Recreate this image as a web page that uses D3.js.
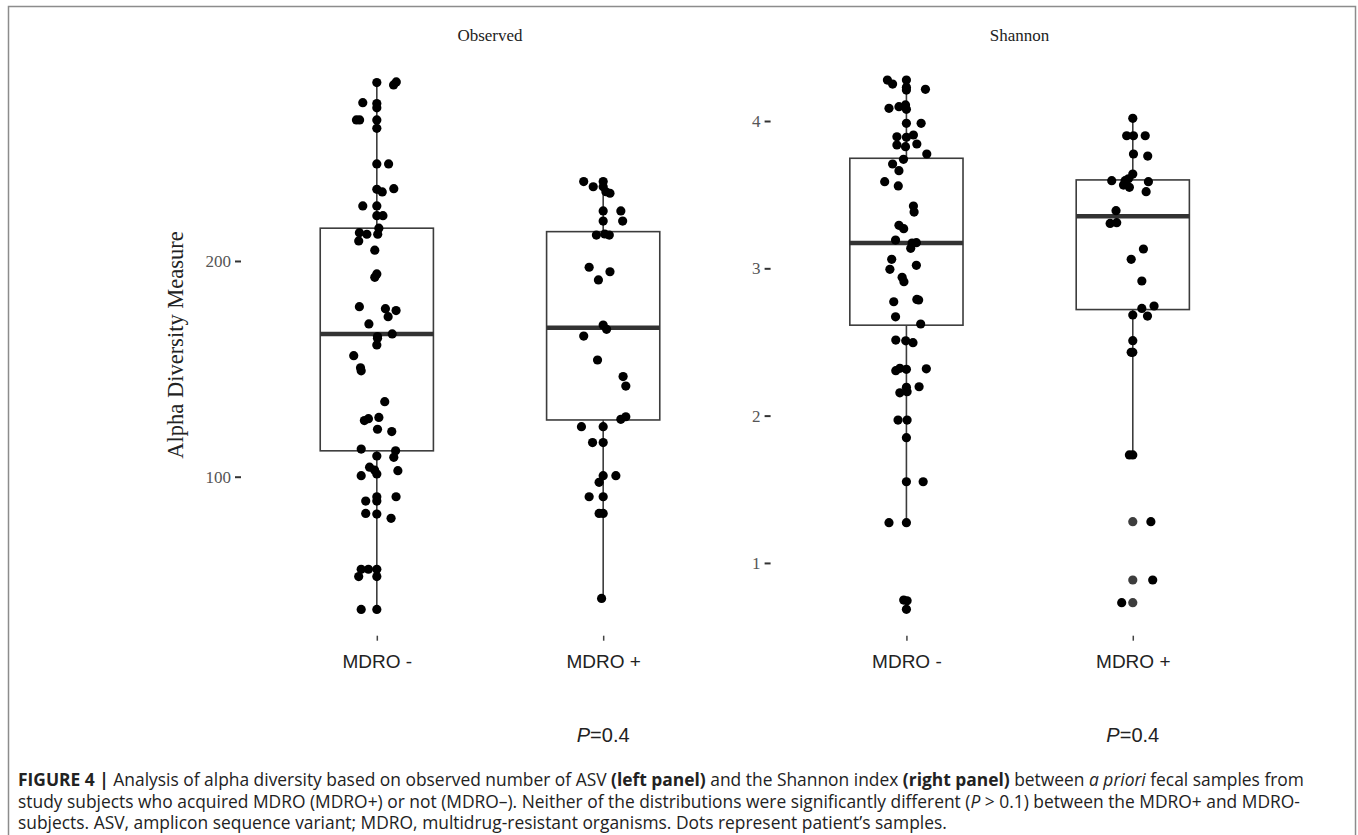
<!DOCTYPE html>
<html>
<head>
<meta charset="utf-8">
<title>alpha diversity</title>
<script src="https://d3js.org/d3.v7.min.js"></script>
<style>
  body { margin: 0; background: #fff; }
  .ttl { font-family: 'Liberation Serif', 'Times New Roman', serif; font-size: 17px; fill: #222; }
  .ylab { font-family: 'Liberation Serif', 'Times New Roman', serif; font-size: 22.5px; fill: #222; }
  .yaxis text { font-family: 'Liberation Serif', 'Times New Roman', serif; font-size: 17px; fill: #555; }
  .yaxis line { stroke: #333; stroke-width: 2; }
  .xaxis text { font-family: 'Liberation Sans', Arial, sans-serif; font-size: 19px; fill: #222; }
  .xaxis line { stroke: #444; stroke-width: 1.5; }
  .domain { display: none; }
  .pval { font-family: 'Liberation Sans', Arial, sans-serif; font-size: 20px; fill: #222; }
  .cap { font-family: 'Open Sans', 'Liberation Sans', sans-serif; font-size: 17.4px; fill: #222; }
  .box { fill: none; stroke: #3c3c3c; stroke-width: 1.6; }
  .med { stroke: #333; stroke-width: 4.5; }
  .whisk { stroke: #3c3c3c; stroke-width: 1.6; }
</style>
</head>
<body>
<div id="fig"></div>
<script>
var panels = ["Observed", "Shannon"];
var groups = ["MDRO -", "MDRO +"];
var pvals = ["0.4", "0.4"];

// [value, jitter] pairs
var obsMinus = [[282.7,0],[283.0,0.086],[281.6,0.074],[273.4,-0.062],[273.0,0],[271.0,0],[265.4,-0.09],[265.4,-0.076],
  [265.4,0],[261.5,0],[245,0],[245,0.052],[233.2,0],[232,0.024],[233.5,0.075],[225.5,-0.062],[225.5,0],[221,0],
  [221,0.027],[215.2,0.009],[213.1,-0.077],[212.4,-0.044],[212.4,0.004],[209.3,-0.08],[205,-0.009],[194,0],
  [192.4,-0.009],[178.8,-0.077],[177.9,0.038],[177,0.085],[174.2,0.05],[170.8,-0.035],[165,0.003],[166.2,0.068],
  [164.2,0.003],[161.1,0],[156.1,-0.102],[150.5,-0.072],[149.1,-0.069],[134.8,0.035],[126,-0.055],[126.9,-0.037],
  [127.5,0.009],[122,0.003],[120.9,0.066],[112.8,-0.069],[112,0.083],[109,0.075],[109.6,0],[104.4,-0.032],
  [103.1,-0.01],[101.3,0],[100.5,-0.069],[102.8,0.093],[90.7,0],[90.7,0.085],[88.7,-0.049],[88.7,0],[83,-0.049],
  [82.7,0],[80.7,0.063],[57.1,-0.069],[57.1,-0.037],[57.1,0],[53.7,-0.08],[53.7,0],[38.5,-0.069],[38.5,0]];
var obsPlus = [[236.8,-0.086],[234.4,-0.044],[236.8,0],[234.4,0],[232.1,0.012],[231.4,0.03],[223.2,0],[223.2,0.078],
  [218.5,0],[218.5,0.086],[212,-0.03],[212.5,0.007],[212,0.027],[197.1,-0.062],[195,0.03],[191.2,-0.021],[170.3,0],
  [168.3,0.015],[165.2,-0.086],[154.1,-0.025],[146.4,0.088],[142,0.1],[126.6,0.078],[127.8,0.1],[123.2,-0.096],
  [123.2,0],[115.8,-0.047],[115.8,0],[100.5,0],[100.5,0.056],[97.4,-0.018],[90.7,-0.062],[90.7,0],[83,-0.018],
  [83,0],[43.6,-0.007]];
var shanMinus = [[4.278,-0.084],[4.251,-0.061],[4.278,0],[4.229,0],[4.21,0],[4.215,0.084],[4.086,-0.077],[4.097,-0.033],
  [4.109,-0.004],[4.079,0],[3.984,0],[3.984,0.065],[3.893,-0.042],[3.905,0.031],[3.889,0],[3.837,-0.042],[3.826,-0.004],
  [3.844,0.046],[3.776,0.09],[3.74,-0.013],[3.708,-0.061],[3.663,-0.033],[3.588,-0.096],[3.559,-0.036],[3.423,0.031],
  [3.382,0.034],[3.292,-0.033],[3.269,-0.012],[3.192,-0.048],[3.136,0.019],[3.174,0.044],[3.172,0.025],[3.061,-0.065],
  [2.993,-0.073],[3.02,0.044],[2.939,-0.019],[2.909,-0.011],[2.773,-0.056],[2.789,0.046],[2.785,0.054],[2.671,-0.048],
  [2.622,0.063],[2.513,-0.047],[2.508,-0.003],[2.495,0.029],[2.305,-0.047],[2.321,-0.029],[2.314,0],[2.318,0.088],
  [2.192,0],[2.196,0.056],[2.155,-0.029],[2.162,0.003],[1.97,-0.037],[1.97,0.003],[1.85,0],[1.551,0],[1.551,0.074],
  [1.273,-0.077],[1.273,0],[0.748,-0.012],[0.743,0.003],[0.685,0]];
var shanPlus = [[4.018,0],[3.9,-0.027],[3.9,0.003],[3.9,0.055],[3.776,0.003],[3.762,0.066],[3.64,0],[3.595,-0.093],
  [3.595,-0.034],[3.608,-0.019],[3.565,-0.041],[3.55,-0.015],[3.588,0.069],[3.52,0.059],[3.391,-0.074],[3.305,-0.1],
  [3.31,-0.071],[3.131,0.047],[3.061,-0.007],[2.914,0.04],[2.728,0.04],[2.744,0.094],[2.683,0],[2.676,0.065],
  [2.509,0],[2.43,-0.007],[2.43,0],[1.733,-0.015],[1.733,0],[1.28,0.08],[0.884,0.088],[0.73,-0.049]];
var shanPlusOut = [1.28, 0.884, 0.73];

// box stats: [lower whisker, q1, median, q3, upper whisker]
var obsBox = [[38.5,112,166.2,215.2,283],[43.6,126.3,169.1,213.6,236.8]];
var shanBox = [[1.273,2.614,3.172,3.747,4.278],[1.733,2.72,3.353,3.6,4.018]];

var obsTicks = [100, 200];
var shanTicks = [1, 2, 3, 4];
var obsDomain = [26.3, 295.2];
var shanDomain = [0.506, 4.444];

var W = 1358, H = 835;
var svg = d3.select("#fig").append("svg").attr("width", W).attr("height", H);

// figure frame
svg.append("rect").attr("x", 8.5).attr("y", 6.5).attr("width", 1347).attr("height", 840)
  .attr("fill", "none").attr("stroke", "#8c8c8c").attr("stroke-width", 1.5);

var pw = 498, yTop = 55.6, yBot = 635.7;
var specs = [
  {left: 241, name: panels[0], pts: [obsMinus, obsPlus], box: obsBox, ticks: obsTicks, dom: obsDomain, out: [[], []]},
  {left: 770.6, name: panels[1], pts: [shanMinus, shanPlus], box: shanBox, ticks: shanTicks, dom: shanDomain, out: [[], shanPlusOut]}
];

specs.forEach(function(s, pi) {
  var g = svg.append("g").attr("transform", "translate(" + s.left + ",0)");
  var x = d3.scaleLinear().domain([0.4, 2.6]).range([0, pw]);
  var y = d3.scaleLinear().domain(s.dom).range([yBot, yTop]);

  g.append("text").attr("class", "ttl").attr("x", pw / 2).attr("y", 41)
    .attr("text-anchor", "middle").text(s.name);

  g.append("g").attr("class", "yaxis")
    .call(d3.axisLeft(y).tickValues(s.ticks).tickSize(6).tickPadding(4).tickFormat(d3.format("d")));

  g.append("g").attr("class", "xaxis").attr("transform", "translate(0," + yBot + ")")
    .call(d3.axisBottom(x).tickValues([1, 2]).tickSize(5).tickPadding(14)
      .tickFormat(function(d) { return groups[d - 1]; }));

  var bw = 0.25;
  s.box.forEach(function(b, i) {
    var c = i + 1;
    g.append("line").attr("class", "whisk").attr("x1", x(c)).attr("x2", x(c))
      .attr("y1", y(b[0])).attr("y2", y(b[1]));
    g.append("line").attr("class", "whisk").attr("x1", x(c)).attr("x2", x(c))
      .attr("y1", y(b[3])).attr("y2", y(b[4]));
    g.append("rect").attr("class", "box").attr("x", x(c - bw)).attr("width", x(c + bw) - x(c - bw))
      .attr("y", y(b[3])).attr("height", y(b[1]) - y(b[3]));
    g.append("line").attr("class", "med").attr("x1", x(c - bw)).attr("x2", x(c + bw))
      .attr("y1", y(b[2])).attr("y2", y(b[2]));
  });

  s.out.forEach(function(o, i) {
    g.selectAll(".out" + i).data(o).enter().append("circle")
      .attr("cx", x(i + 1)).attr("cy", function(d) { return y(d); })
      .attr("r", 4.6).attr("fill", "#3d3d3d");
  });

  s.pts.forEach(function(p, i) {
    g.selectAll(".pt" + i).data(p).enter().append("circle")
      .attr("cx", function(d) { return x(i + 1 + d[1]); })
      .attr("cy", function(d) { return y(d[0]); })
      .attr("r", 4.6).attr("fill", "#000");
  });

  var pt = g.append("text").attr("class", "pval").attr("x", x(2)).attr("y", 742).attr("text-anchor", "middle");
  pt.append("tspan").attr("font-style", "italic").text("P");
  pt.append("tspan").text("=" + pvals[pi]);
});

// y title
svg.append("text").attr("class", "ylab").attr("transform", "translate(183,345) rotate(-90)")
  .attr("text-anchor", "middle").text("Alpha Diversity Measure");

// caption
var capLines = [
  [["FIGURE 4 | ", "b"], ["Analysis of alpha diversity based on observed number of ASV ", ""], ["(left panel)", "b"],
   [" and the Shannon index ", ""], ["(right panel)", "b"], [" between ", ""], ["a priori", "i"], [" fecal samples from", ""]],
  [["study subjects who acquired MDRO (MDRO+) or not (MDRO\u2013). Neither of the distributions were significantly different (", ""],
   ["P", "i"], [" > 0.1) between the MDRO+ and MDRO-", ""]],
  [["subjects. ASV, amplicon sequence variant; MDRO, multidrug-resistant organisms. Dots represent patient\u2019s samples.", ""]]
];
capLines.forEach(function(line, li) {
  var t = svg.append("text").attr("class", "cap").attr("x", 18).attr("y", 786 + li * 21.5);
  line.forEach(function(seg) {
    var ts = t.append("tspan").text(seg[0]);
    if (seg[1] == "b") ts.attr("font-weight", "bold");
    if (seg[1] == "i") ts.attr("font-style", "italic");
  });
});
</script>
</body>
</html>
